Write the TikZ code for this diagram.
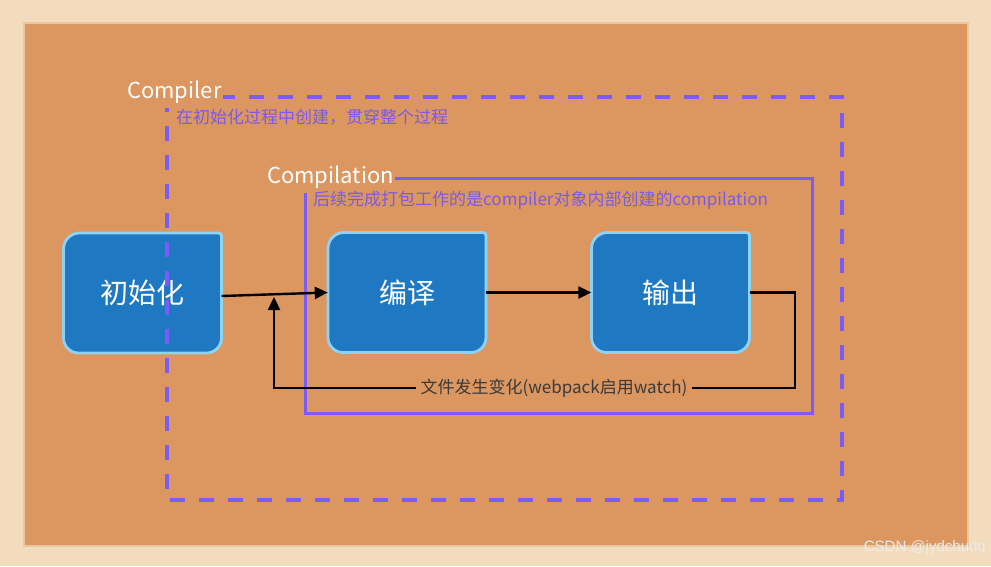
\documentclass[tikz,border=0pt]{standalone}
\usepackage{fontspec}
\setmainfont{Noto Sans CJK SC}
\newfontfamily\wmfont{Liberation Sans}
\usetikzlibrary{arrows.meta}
\definecolor{wood}{HTML}{F3DCBD}
\definecolor{woodedge}{HTML}{E9C79F}
\definecolor{cork}{HTML}{DC9660}
\definecolor{violetline}{HTML}{7B5CF6}
\definecolor{violettext}{HTML}{7A5AE8}
\definecolor{boxfill}{HTML}{1E78C2}
\definecolor{boxedge}{HTML}{8ED2F6}
\definecolor{labeltext}{HTML}{3A3A3A}
\tikzset{
  boxshape/.style={fill=boxfill, draw=boxedge, line width=2.8pt},
  boxtext/.style={text=white, font=\fontsize{28}{30}\selectfont, minimum width=158pt, minimum height=119pt, inner sep=0pt},
  arr/.style={draw=black, line width=2.4pt, -{Triangle[length=13pt,width=12pt]}},
  titlelabel/.style={text=white, font=\fontsize{22}{24}\selectfont, fill=cork, inner sep=1pt, minimum height=32pt, anchor=west},
  sublabel/.style={text=violettext, font=\fontsize{17}{19}\selectfont, inner sep=0pt, anchor=west},
  compilerline/.style={draw=violetline, line width=3.6pt, dash pattern=on 15pt off 14pt},
  compilationline/.style={draw=violetline, line width=3pt},
}
\newcommand\roundbox[2]{% x, y (px, y down)
  \begin{scope}[shift={(#1,-#2)}]
    \path[boxshape] (-79,44) arc[start angle=180,end angle=90,radius=16]
      -- (76,60) arc[start angle=90,end angle=0,radius=3]
      -- (79,-45) arc[start angle=0,end angle=-90,radius=15]
      -- (-64,-60) arc[start angle=270,end angle=180,radius=15] -- cycle;
  \end{scope}
}
\begin{document}
\begin{tikzpicture}[x=1pt,y=1pt]
\useasboundingbox (0,0) rectangle (991,-566);
\fill[wood] (0,0) rectangle (991,-566);
\fill[woodedge] (23,-22) rectangle (969,-547);
\fill[cork] (25,-24) rectangle (967,-545);

% Compilation frame
\draw[compilationline] (305,-178) rectangle (812,-413);
\node[titlelabel] (compilationlabel) at (266,-177) {Compilation};
\node[sublabel] (compilationsub) at (313,-200) {后续完成打包工作的是compiler对象内部创建的compilation};

% boxes
\roundbox{142.5}{293}
\node[boxtext] (init) at (142.5,-293) {初始化};
\roundbox{407}{292.5}
\node[boxtext] (comp) at (407,-292.5) {编译};
\roundbox{670.5}{292.5}
\node[boxtext] (out) at (670.5,-292.5) {输出};

% connectors
\draw[arr] ([yshift=-3pt]init.east) -- (comp.west);
\draw[arr] (comp.east) -- (out.west);
\coordinate (fbcorner) at (274,-388);
\coordinate (fbtip) at (274,-297);
\draw[arr] (out.east) -- ++(45,0) |- (fbcorner) -- (fbtip);
\node[fill=cork, text=labeltext, font=\fontsize{17}{19}\selectfont, inner sep=5pt] (fblabel) at (554,-388) {文件发生变化(webpack启用watch)};

% Compiler dashed frame (drawn over everything)
\draw[compilerline] (167,-97) rectangle (842,-500);
\node[titlelabel] (compilerlabel) at (126,-92) {Compiler};
\node[sublabel] (compilersub) at (176,-117) {在初始化过程中创建，贯穿整个过程};

% watermark
\node[text=white!85!gray, font=\wmfont\fontsize{15}{17}\selectfont, anchor=east, inner sep=0pt] (wm) at (986,-548) {CSDN @jydchudq};
\end{tikzpicture}
\end{document}
